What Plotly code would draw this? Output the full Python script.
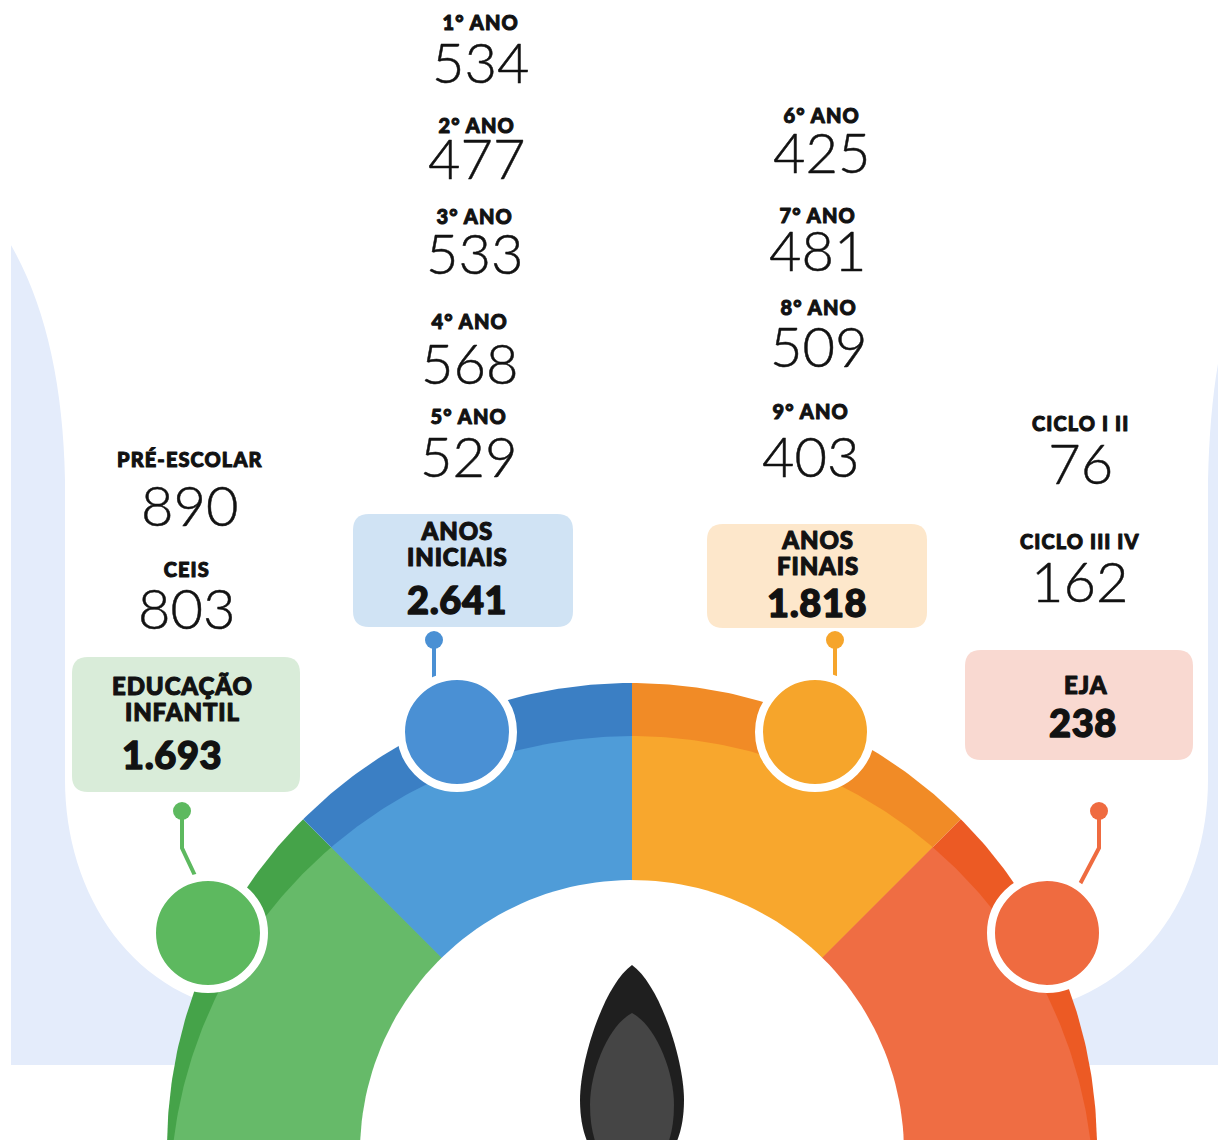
import numpy as np
import plotly.graph_objects as go

# ---------------- data ----------------
groups = ["EDUCAÇÃO INFANTIL", "ANOS INICIAIS", "ANOS FINAIS", "EJA"]
group_totals = [1693, 2641, 1818, 238]
gauge_share = [1, 1, 1, 1]  # each group takes an equal slice of the dial

infantil_labels = ["PRÉ-ESCOLAR", "CEIS"]
infantil_values = [890, 803]
iniciais_labels = ["1° ANO", "2° ANO", "3° ANO", "4° ANO", "5° ANO"]
iniciais_values = [534, 477, 533, 568, 529]
finais_labels = ["6° ANO", "7° ANO", "8° ANO", "9° ANO"]
finais_values = [425, 481, 509, 403]
eja_labels = ["CICLO I II", "CICLO III IV"]
eja_values = [76, 162]

# ---------------- style / layout constants ----------------
W, H = 1218, 1140
dark_cols = ["#45a349", "#3b7fc4", "#f18b26", "#ec5a24"]
light_cols = ["#66ba69", "#4f9cd8", "#f8a72d", "#ef6d43"]
dot_cols = ["#5db95f", "#4a90d4", "#f6a52b", "#ef6b40"]
box_cols = ["#d9ecd9", "#d0e3f4", "#fde7cb", "#f9d9d1"]
INK = "#121212"
HEAVY = "Lato"

C1, R1 = (632.0, 1148.0), 465.0      # outer (dark) band
C2, R2 = (632.0, 1198.0), 462.0      # inner (light) face
C3, R3 = (632.0, 1152.0), 272.0      # white hole


def fmt(v):
    return f"{v:,}".replace(",", ".")


fig = go.Figure()

# gauge slices: angles derived from the share list
share = np.array(gauge_share, dtype=float)
edges = 180.0 - np.concatenate([[0], np.cumsum(share)]) / share.sum() * 180.0


def ray_hit(theta_deg):
    th = np.radians(theta_deg)
    d = np.array([np.cos(th), -np.sin(th)])
    w = np.array(C1) - np.array(C2)
    b = w @ d
    t = -b + np.sqrt(b * b - w @ w + R2 ** 2)
    return np.array(C1) + t * d


for i in range(len(groups)):
    a, b = edges[i], edges[i + 1]
    ang = np.radians(np.linspace(a, b, 80))
    xs = np.concatenate([[C1[0]], C1[0] + R1 * np.cos(ang), [C1[0]]])
    ys = np.concatenate([[C1[1]], C1[1] - R1 * np.sin(ang), [C1[1]]])
    fig.add_trace(go.Scatter(x=xs, y=ys, fill="toself", mode="lines",
                             line=dict(width=0, color=dark_cols[i]),
                             fillcolor=dark_cols[i], hoverinfo="skip"))
for i in range(len(groups)):
    a, b = edges[i], edges[i + 1]
    pa, pb = ray_hit(a), ray_hit(b)
    fa = np.arctan2(-(pa[1] - C2[1]), pa[0] - C2[0])
    fb = np.arctan2(-(pb[1] - C2[1]), pb[0] - C2[0])
    phi = np.linspace(fa, fb, 80)
    xs = np.concatenate([[C1[0]], C2[0] + R2 * np.cos(phi), [C1[0]]])
    ys = np.concatenate([[C1[1]], C2[1] - R2 * np.sin(phi), [C1[1]]])
    fig.add_trace(go.Scatter(x=xs, y=ys, fill="toself", mode="lines",
                             line=dict(width=0, color=light_cols[i]),
                             fillcolor=light_cols[i], hoverinfo="skip"))

# white hole
t = np.linspace(0, 2 * np.pi, 200)
fig.add_trace(go.Scatter(x=C3[0] + R3 * np.cos(t), y=C3[1] - R3 * np.sin(t),
                         fill="toself", mode="lines", line=dict(width=0, color="white"),
                         fillcolor="white", hoverinfo="skip"))

# markers on the dial + connectors (geometry)
circle_pos = [(208, 933), (457, 732), (815, 732), (1047, 933)]
connectors = [
    [(182, 811), (182, 848), (198, 882)],
    [(434, 640), (434, 684)],
    [(835, 640), (835, 684)],
    [(1099, 811), (1099, 848), (1080, 884)],
]
for i in range(len(groups)):
    pts = connectors[i]
    fig.add_trace(go.Scatter(x=[p[0] for p in pts], y=[p[1] for p in pts], mode="lines",
                             line=dict(color=dot_cols[i], width=4), hoverinfo="skip"))
    fig.add_trace(go.Scatter(x=[pts[0][0]], y=[pts[0][1]], mode="markers",
                             marker=dict(size=18, color=dot_cols[i], line=dict(width=0)),
                             hoverinfo="skip"))
for i in range(len(groups)):
    fig.add_trace(go.Scatter(x=[circle_pos[i][0]], y=[circle_pos[i][1]], mode="markers",
                             marker=dict(size=112, color=dot_cols[i],
                                         line=dict(color="white", width=8)),
                             hoverinfo="skip"))

shapes = []
# background
shapes.append(dict(type="rect", x0=11, x1=1230, y0=200, y1=1065, xref="x", yref="y",
                   fillcolor="#e4ecfb", line=dict(width=0), layer="below"))
shapes.append(dict(type="path", xref="x", yref="y", layer="below",
                   path=("M 0,150 L 8,240 Q 62,330 65,480 L 65,780 "
                         "C 65,900 140,1015 280,1015 L 990,1015 "
                         "C 1130,1015 1208,900 1208,780 L 1208,480 "
                         "Q 1210,390 1225,330 L 1225,150 Z"),
                   fillcolor="white", line=dict(width=0)))


def rrect(x0, y0, x1, y1, r):
    return (f"M {x0+r},{y0} L {x1-r},{y0} Q {x1},{y0} {x1},{y0+r} L {x1},{y1-r} "
            f"Q {x1},{y1} {x1-r},{y1} L {x0+r},{y1} Q {x0},{y1} {x0},{y1-r} "
            f"L {x0},{y0+r} Q {x0},{y0} {x0+r},{y0} Z")


boxes = [(72, 657, 300, 792), (353, 514, 573, 627), (707, 524, 927, 628), (965, 650, 1193, 760)]
for i, bx in enumerate(boxes):
    shapes.append(dict(type="path", xref="x", yref="y", layer="below",
                       path=rrect(*bx, 16), fillcolor=box_cols[i], line=dict(width=0)))

# needle
shapes.append(dict(type="path", xref="x", yref="y", layer="above", fillcolor="#1f1f1f",
                   line=dict(width=0),
                   path=("M 632,965 C 660,985 684,1060 684,1100 C 684,1150 660,1175 632,1175 "
                         "C 604,1175 580,1150 580,1100 C 580,1060 604,985 632,965 Z")))
shapes.append(dict(type="path", xref="x", yref="y", layer="above", fillcolor="#454545",
                   line=dict(width=0),
                   path=("M 632,1013 C 655,1025 674,1070 674,1105 C 674,1150 655,1175 632,1175 "
                         "C 609,1175 590,1150 590,1105 C 590,1070 609,1025 632,1013 Z")))

ann = []
ASC = 0.987  # Lato ascent (em)


def block(x, top, text, base):
    ann.append(dict(x=x, y=top, xref="x", yref="y", text=text, showarrow=False,
                    xanchor="center", yanchor="top", borderpad=0,
                    font=dict(family=HEAVY, size=base, color=INK, weight=900)))


def span(s, size, weight, spacing=0.0, stroke=0.0):
    st = f"font-size:{size}px;font-weight:{weight}"
    if spacing:
        st += f";letter-spacing:{spacing}px"
    if stroke:
        st += f";stroke:{INK};stroke-width:{stroke}px;stroke-linejoin:round"
    return f"<span style='{st}'>{s}</span>"


def heavy(s, size, spacing, stroke):
    return span(s, size, 900, spacing, stroke)


HS, NS, TS, BS = 20, 56, 24, 38   # header / number / box title / box total sizes

# box titles (multi-line) and totals; baselines taken from the layout
box_title_base = [(182, 694), (457, 539), (818, 548), (1086, 693)]
box_num_base = [(172, 768), (457, 613), (817, 616), (1083, 736)]
for i, g in enumerate(groups):
    words = g.split(" ")
    bx, by = box_title_base[i]
    txt = "<br>".join(heavy(w, TS, 0.9, 1.1) for w in words)
    block(bx, by - ASC * TS, txt, 20)
    nx, ny = box_num_base[i]
    block(nx, ny - ASC * BS, heavy(fmt(group_totals[i]), BS, 0.6, 1.4), BS)

# breakdown columns: (labels, values, header baselines, number baselines)
cols = [
    (infantil_labels, infantil_values, [(190, 466), (186, 576)], [525, 628]),
    (iniciais_labels, iniciais_values,
     [(480, 29), (476, 132), (474, 223), (469, 328), (468, 423)],
     [82, 178, 273, 383, 476]),
    (finais_labels, finais_values,
     [(821, 122), (817, 222), (818, 314), (810, 418)],
     [172, 270, 366, 476]),
    (eja_labels, eja_values, [(1080, 430), (1080, 548)], [483, 601]),
]
for labels, values, hpos, nbase in cols:
    for k in range(len(labels)):
        hx, hb = hpos[k]
        gap = nbase[k] - hb
        txt = (heavy(labels[k], HS, 1.1, 1.0) + "<br>"
               + span(str(values[k]), NS, 300, 0.0, 0.5))
        block(hx, hb - ASC * HS, txt, gap / 1.3)

fig.update_layout(
    width=W, height=H, margin=dict(l=0, r=0, t=0, b=0),
    paper_bgcolor="white", plot_bgcolor="white", showlegend=False,
    xaxis=dict(range=[0, W], visible=False, fixedrange=True),
    yaxis=dict(range=[H, 0], visible=False, fixedrange=True),
    shapes=shapes, annotations=ann,
)
fig.write_html("out.html", config={"displayModeBar": False},
               post_script="document.body.style.margin='0px';")
